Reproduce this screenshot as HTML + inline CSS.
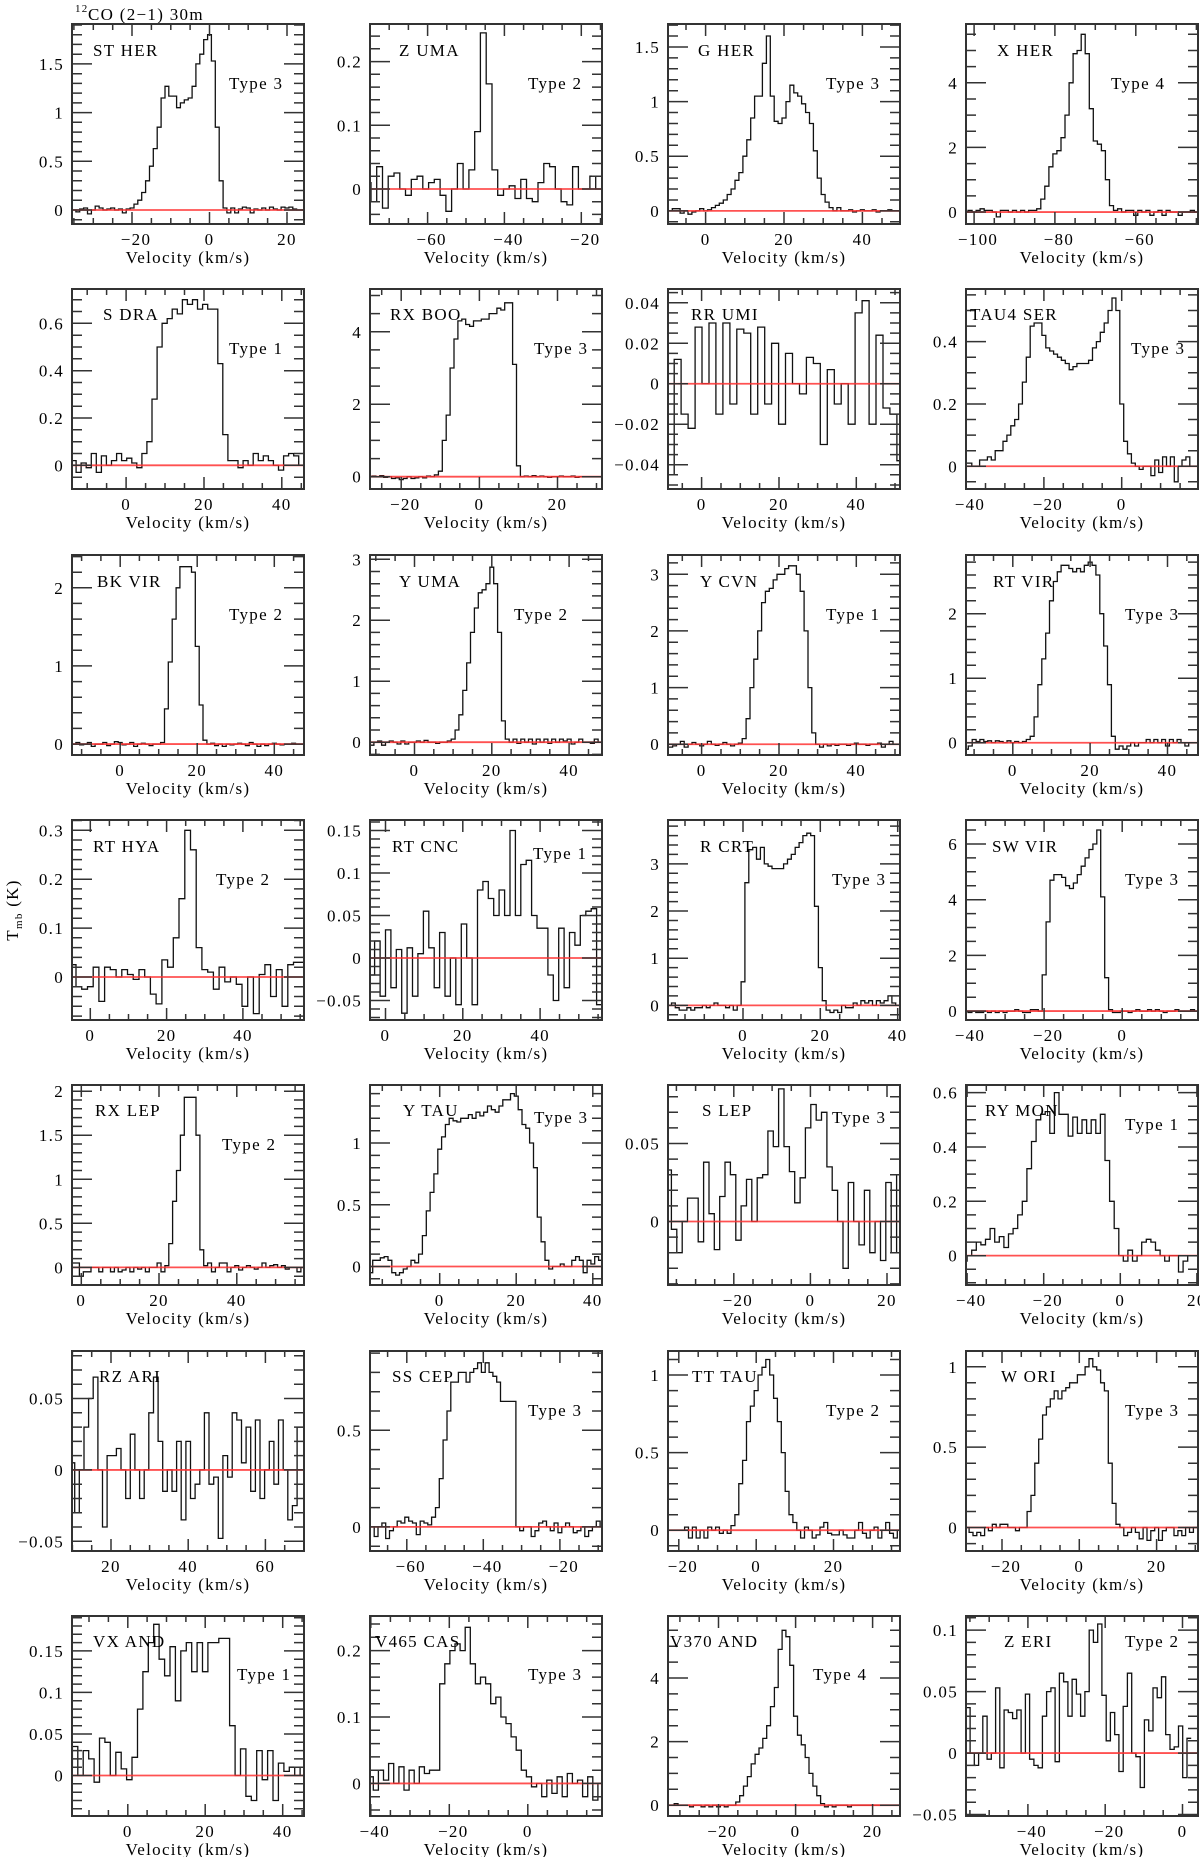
<!DOCTYPE html>
<html><head><meta charset="utf-8">
<style>
html,body{margin:0;padding:0;background:#fff;}
svg{display:block;font-family:"Liberation Serif",serif;}
svg text{letter-spacing:1.3px;}
</style></head>
<body>
<svg id="fig" width="1200" height="1857" viewBox="0 0 1200 1857" xmlns="http://www.w3.org/2000/svg">
<text x="75" y="12" font-size="11">12</text>
<text x="88" y="20" font-size="17">CO (2−1) 30m</text>
<text transform="translate(18,910) rotate(-90)" text-anchor="middle" font-size="17">T<tspan font-size="11" dy="4">mb</tspan><tspan dy="-4"> (K)</tspan></text>
</svg>
<script>
// ---- data: star names, types, and spectra (Tmb in K per channel) ----
const starNames = ["ST HER","Z UMA","G HER","X HER","S DRA","RX BOO","RR UMI","TAU4 SER","BK VIR","Y UMA","Y CVN","RT VIR","RT HYA","RT CNC","R CRT","SW VIR","RX LEP","Y TAU","S LEP","RY MON","RZ ARI","SS CEP","TT TAU","W ORI","VX AND","V465 CAS","V370 AND","Z ERI"];
const starTypes = ["Type 3","Type 2","Type 3","Type 4","Type 1","Type 3","","Type 3","Type 2","Type 2","Type 1","Type 3","Type 2","Type 1","Type 3","Type 3","Type 2","Type 3","Type 3","Type 1","","Type 3","Type 2","Type 3","Type 1","Type 3","Type 4","Type 2"];
// first channel velocity and channel width (km/s)
const startVel = [-35,-75.5,-9,-102,-13.5,-28,-8,-40,-12,-11,-8,-12,-4.5,-3.5,-19,-40,-2,-18,-37,-40.6,10,-69,-22,-29,-15,-40,-33,-55.5];
const chanWidth = [1,1.5,1,1,1.3,1,1.8,1,1,1,1,1,1.5,1.4,1,1,1,1,1.4,1.2,1.2,1,1,1,1.4,1.3,1,1.1];
const stHer=[0.0,-0.02,0.01,0.02,-0.04,0.0,0.04,0.02,0.0,0.01,0.02,0.0,0.01,-0.03,0.01,0.02,0.06,0.1,0.18,0.3,0.45,0.63,0.85,1.15,1.27,1.17,1.17,1.05,1.1,1.13,1.15,1.27,1.5,1.6,1.75,1.8,1.53,0.85,0.3,0.02,-0.03,0.02,-0.03,0.01,0.03,0.02,-0.03,0.01,0.0,0.02,0.0,0.03,0.01,0.0,0.03,0.02,0.03,0.01,0.0,0.0];
const zUma=[0.01,-0.02,0.035,-0.03,0.02,0.025,0.0,-0.01,0.015,0.02,0.0,0.01,0.015,-0.01,-0.035,0.0,0.04,0.0,0.03,0.09,0.245,0.165,0.03,-0.01,0.0,0.005,-0.015,0.015,-0.015,-0.02,0.01,0.04,0.035,0.0,-0.02,-0.025,0.035,0.0,0.0,0.02,0.0];
const gHer=[0.0,0.02,0.02,-0.02,0.0,-0.03,-0.01,0.0,0.02,0.0,0.01,0.03,0.05,0.07,0.1,0.15,0.2,0.28,0.35,0.5,0.65,0.85,1.05,1.05,1.35,1.6,1.05,0.82,0.8,0.85,1.0,1.15,1.08,1.05,0.98,0.9,0.8,0.55,0.3,0.15,0.08,0.03,0.0,0.03,0.0,0.0,0.01,-0.01,0.0,0.01,0.0,0.0,0.01,-0.01,0.0,0.0,0.01,0.0,0.0];
const xHer=[0.0,0.05,0.0,0.05,0.1,0.05,0.05,0.0,-0.15,0.05,0.05,0.0,0.05,0.0,0.05,0.0,0.05,0.05,0.1,0.4,0.8,1.4,1.8,1.9,2.3,3.0,4.0,4.9,5.0,5.5,4.9,3.2,2.2,2.1,1.9,1.0,0.2,0.05,0.1,0.0,0.05,0.05,-0.1,0.05,0.0,0.05,-0.1,0.0,0.05,-0.1,0.05,0.0,0.0,-0.1,0.0,0.0,0.05,0.0];
const sDra=[0.02,-0.03,0.01,-0.01,0.05,-0.03,0.04,0.0,0.02,0.05,0.02,0.03,0.01,-0.01,0.05,0.1,0.28,0.5,0.6,0.62,0.66,0.64,0.7,0.68,0.7,0.66,0.68,0.66,0.66,0.43,0.13,0.02,0.02,-0.01,0.02,0.0,0.05,0.02,0.04,0.02,0.0,-0.02,0.04,0.05,0.04,0.0,0.01];
const rxBoo=[0.0,0.02,0.0,0.03,-0.02,0.0,-0.05,-0.03,-0.08,-0.05,0.0,-0.05,-0.03,0.0,-0.03,0.02,0.0,0.05,0.15,1.0,1.7,3.0,3.8,4.3,4.35,4.2,4.15,4.3,4.3,4.35,4.35,4.5,4.5,4.65,4.6,4.8,4.8,3.1,0.3,0.0,0.02,0.0,0.03,0.0,0.02,0.0,-0.02,0.0,0.0,0.02,0.0,0.0,0.02,-0.02,0.0,0.0,0.0,0.0,0.0,0.0];
const rrUmi=[-0.045,0.012,-0.015,-0.022,0.028,0.0,0.03,-0.015,0.03,-0.01,0.027,0.025,-0.015,0.028,-0.01,0.02,-0.02,0.015,0.0,-0.005,0.013,0.01,-0.03,0.007,-0.01,0.0,-0.02,0.035,0.041,-0.02,0.024,-0.012,-0.015,-0.038,-0.005,-0.015];
const tau4Ser=[0.01,0.01,0.0,0.0,0.02,0.02,0.03,0.02,0.05,0.05,0.08,0.1,0.13,0.15,0.2,0.27,0.35,0.45,0.46,0.46,0.42,0.38,0.37,0.36,0.35,0.34,0.33,0.31,0.32,0.33,0.33,0.33,0.34,0.38,0.4,0.43,0.46,0.5,0.54,0.5,0.2,0.08,0.04,0.01,0.0,-0.01,0.0,0.0,-0.03,0.02,-0.02,0.03,0.0,0.03,-0.05,0.0,0.02,0.03,0.0,0.0];
const bkVir=[0.0,0.02,-0.01,0.0,0.02,-0.03,0.0,0.0,0.02,-0.02,0.0,0.03,0.02,-0.01,0.0,0.02,-0.03,0.0,0.01,0.0,-0.02,0.0,0.0,0.02,0.45,1.05,1.6,2.0,2.27,2.27,2.27,2.2,1.25,0.5,0.05,0.0,0.01,-0.02,0.0,-0.03,0.0,-0.01,0.0,0.01,0.0,-0.02,0.02,0.0,-0.03,0.0,-0.02,0.0,0.01,0.0,-0.01,0.0,0.0,0.01,0.0,0.0];
const yUma=[-0.05,0.0,0.02,-0.05,0.0,0.02,0.0,-0.03,0.02,-0.03,0.0,0.0,0.02,0.0,0.03,0.0,0.0,-0.02,0.0,0.0,0.02,0.05,0.2,0.45,0.85,1.3,1.8,2.2,2.45,2.5,2.6,2.87,2.6,1.8,0.35,0.05,0.0,0.05,-0.02,0.05,0.0,0.05,-0.03,0.05,0.0,0.05,-0.02,0.05,0.0,0.05,0.02,0.05,-0.03,0.0,0.05,0.0,0.0,-0.02,0.05,0.0];
const yCvn=[-0.05,-0.03,0.0,0.05,-0.05,0.0,0.03,0.0,-0.03,0.0,0.05,0.0,-0.02,0.0,0.03,0.0,-0.03,0.0,0.02,0.1,0.45,1.0,1.5,2.0,2.5,2.7,2.75,2.9,3.0,3.0,3.1,3.15,3.15,3.0,2.7,2.0,1.0,0.2,0.0,-0.05,0.0,-0.03,0.0,-0.02,0.0,0.0,-0.02,0.0,0.02,0.0,0.0,-0.02,0.0,0.0,0.02,-0.05,0.0,0.05,0.0,0.0];
const rtVir=[-0.1,-0.05,0.05,0.02,0.05,0.02,0.03,0.0,0.03,0.02,0.0,0.03,0.0,0.02,0.0,0.02,0.05,0.1,0.4,0.9,1.3,1.7,2.2,2.5,2.65,2.75,2.75,2.7,2.65,2.7,2.65,2.75,2.8,2.75,2.6,2.0,1.5,0.9,0.1,-0.1,-0.05,-0.1,-0.05,0.0,-0.05,0.0,0.0,0.05,0.0,0.05,0.0,0.05,-0.05,0.05,0.0,0.05,0.0,-0.05,0.0,0.0];
const rtHya=[0.025,-0.02,-0.025,-0.02,0.02,-0.05,0.02,0.015,0.0,0.015,0.005,-0.005,0.015,0.0,-0.035,-0.055,0.035,0.02,0.08,0.16,0.3,0.26,0.06,0.015,0.01,-0.025,0.02,-0.01,0.0,-0.015,-0.06,0.0,-0.075,0.005,0.025,-0.04,0.015,-0.06,0.025,0.03,0.03];
const rtCnc=[-0.02,0.02,-0.045,0.033,-0.035,0.01,-0.065,0.012,-0.045,0.005,0.055,0.012,-0.035,0.03,-0.045,0.0,-0.055,0.04,0.0,-0.055,0.08,0.09,0.07,0.05,0.08,0.05,0.15,0.05,0.11,0.115,0.05,0.035,0.035,-0.02,-0.05,0.035,-0.035,0.03,0.015,0.05,0.055,0.058,-0.055];
const rCrt=[0.0,0.05,-0.05,-0.1,-0.1,-0.05,-0.1,-0.05,-0.05,0.0,-0.05,0.0,0.05,0.0,0.0,-0.05,0.0,-0.1,0.0,0.5,2.6,3.3,3.35,3.1,3.35,3.0,2.95,2.9,2.9,2.9,3.0,3.1,3.2,3.35,3.45,3.6,3.65,3.6,2.1,0.8,0.1,-0.1,-0.15,-0.1,-0.15,0.0,-0.05,-0.05,0.05,0.0,0.1,0.05,0.1,0.0,0.1,0.05,0.1,0.2,0.05,0.0];
const swVir=[0.0,-0.05,0.0,-0.05,-0.05,0.0,-0.05,0.0,-0.05,0.0,-0.05,0.0,0.0,0.05,0.0,-0.05,-0.05,0.05,0.05,0.0,1.3,3.2,4.7,4.9,4.9,4.8,4.5,4.4,4.6,4.9,5.2,5.5,5.8,6.0,6.5,4.1,1.2,0.05,-0.05,-0.05,0.0,0.0,-0.05,0.0,0.05,0.0,0.0,0.05,0.0,0.05,0.0,-0.05,0.0,0.0,0.05,0.0,0.0,0.0,0.05,0.0];
const rxLep=[0.05,0.05,-0.1,-0.05,-0.05,0.0,0.0,-0.05,0.0,0.0,-0.05,0.0,-0.05,-0.03,0.0,-0.05,0.0,-0.02,0.0,-0.05,0.0,0.0,0.05,-0.05,0.02,0.27,0.75,1.1,1.5,1.93,1.93,1.93,1.5,0.2,0.02,0.05,-0.05,0.0,0.05,0.05,-0.05,0.0,0.02,-0.03,0.0,0.02,0.0,-0.02,0.0,0.05,0.0,0.02,0.03,0.0,0.02,-0.02,0.0,0.0,-0.05,0.0];
const yTau=[-0.05,0.05,0.05,0.07,0.08,0.05,-0.05,-0.07,-0.05,-0.02,0.0,0.05,0.03,0.1,0.25,0.45,0.6,0.75,0.95,1.05,1.15,1.2,1.18,1.17,1.2,1.2,1.23,1.2,1.25,1.22,1.25,1.3,1.27,1.25,1.3,1.35,1.35,1.4,1.38,1.27,1.15,1.12,1.0,0.8,0.4,0.2,0.05,-0.02,0.0,0.0,0.02,0.0,0.0,0.05,0.08,0.05,-0.05,0.05,0.02,0.08,0.05];
const sLep=[0.033,-0.005,-0.02,0.0,0.015,0.015,-0.013,0.038,0.005,-0.018,0.016,0.038,0.03,-0.012,0.01,0.027,0.0,0.028,0.03,0.058,0.048,0.085,0.048,0.032,0.012,0.028,0.06,0.075,0.065,0.07,0.035,0.02,0.0,-0.03,0.025,0.0,-0.015,0.02,-0.02,0.0,-0.025,0.025,-0.02,0.03];
const ryMon=[-0.02,0.0,0.02,0.05,0.04,0.06,0.1,0.05,0.07,0.03,0.08,0.1,0.15,0.2,0.32,0.42,0.5,0.52,0.53,0.45,0.6,0.52,0.52,0.44,0.51,0.45,0.5,0.45,0.5,0.45,0.52,0.35,0.2,0.1,0.0,-0.02,0.02,-0.02,0.0,0.05,0.06,0.05,0.02,0.0,-0.02,0.0,0.0,-0.06,-0.02,0.0];
const rzAri=[0.005,-0.03,0.0,0.03,0.05,0.065,0.0,-0.04,0.01,0.01,0.015,0.0,-0.02,0.025,0.0,-0.02,0.0,0.04,0.065,0.02,-0.015,0.0,-0.015,0.02,-0.035,0.02,-0.02,-0.01,0.0,0.04,-0.01,-0.005,-0.048,0.01,-0.005,0.04,0.035,0.005,0.03,-0.015,0.035,-0.02,0.0,0.02,-0.01,0.035,0.0,-0.035,-0.025,0.03,0.03];
const ssCep=[0.0,-0.05,0.0,0.02,-0.06,-0.02,0.0,0.03,0.02,0.05,0.03,0.02,-0.04,0.03,0.02,0.01,0.05,0.1,0.25,0.45,0.6,0.75,0.75,0.8,0.8,0.75,0.8,0.82,0.85,0.8,0.85,0.8,0.78,0.75,0.65,0.65,0.65,0.65,0.0,-0.02,0.0,0.0,-0.05,-0.02,0.02,0.03,0.0,-0.02,0.02,-0.03,0.0,0.02,0.0,-0.03,-0.02,0.0,-0.05,-0.02,0.0,0.03,0.0];
const ttTau=[0.0,0.0,0.0,0.0,0.02,-0.05,0.02,-0.05,0.0,-0.05,0.02,0.0,0.02,-0.02,0.0,-0.02,0.03,0.1,0.3,0.45,0.7,0.8,0.9,1.0,1.05,1.1,1.0,0.85,0.7,0.5,0.25,0.1,0.05,0.0,-0.05,0.02,0.0,-0.05,-0.03,0.02,0.05,-0.02,-0.03,-0.03,0.0,-0.03,-0.05,-0.05,0.0,0.05,-0.02,-0.05,0.0,0.02,-0.05,0.0,0.05,-0.02,-0.05,0.0];
const wOri=[0.0,-0.03,-0.05,-0.03,-0.05,0.0,-0.02,0.02,0.0,0.02,0.02,0.0,0.0,-0.02,0.0,0.0,0.1,0.2,0.4,0.55,0.7,0.75,0.8,0.85,0.8,0.85,0.87,0.9,0.9,0.95,0.95,1.0,1.05,1.0,0.98,0.9,0.85,0.4,0.15,0.02,0.0,-0.05,-0.03,0.0,-0.03,-0.07,0.0,-0.08,-0.02,0.0,-0.08,-0.02,0.0,0.0,-0.05,-0.02,-0.05,0.0,-0.03,0.0];
const vxAnd=[0.01,0.035,0.0,0.03,0.02,-0.008,0.045,0.04,0.0,0.028,0.008,-0.005,0.022,0.08,0.125,0.16,0.182,0.14,0.12,0.155,0.09,0.15,0.16,0.125,0.16,0.125,0.16,0.16,0.165,0.165,0.06,0.0,0.032,-0.025,-0.03,0.03,-0.005,0.03,-0.03,0.015,0.005,0.01,0.0,0.01,0.0];
const v465Cas=[0.01,-0.01,0.02,0.005,0.03,0.0,0.025,-0.01,0.02,0.0,0.025,0.015,0.02,0.02,0.15,0.18,0.2,0.21,0.2,0.235,0.18,0.15,0.16,0.15,0.12,0.13,0.1,0.09,0.07,0.05,0.02,0.01,-0.005,0.0,-0.02,0.005,-0.015,0.01,-0.02,0.015,0.0,0.005,-0.02,0.01,-0.025,0.0];
const v370And=[0.0,0.0,0.05,0.0,0.0,0.0,-0.05,0.0,0.0,-0.05,0.0,-0.05,0.0,-0.05,0.0,-0.05,0.0,0.0,0.1,0.3,0.6,0.9,1.3,1.6,1.8,2.1,2.5,3.1,3.7,4.9,5.5,5.3,4.4,2.8,2.2,1.9,1.5,1.0,0.6,0.3,0.05,-0.05,0.0,-0.05,0.0,0.0,0.0,-0.05,0.0,0.0,0.0,0.0,0.0,0.0,0.0,0.0,0.0,0.0,0.0,0.0,0.0];
const zEri=[0.037,0.0,-0.01,0.0,0.03,-0.005,0.0,0.053,-0.012,0.035,0.033,0.028,0.035,0.0,0.048,-0.005,-0.01,-0.012,0.03,0.05,0.053,-0.007,0.065,0.058,0.03,0.06,0.048,0.03,0.05,0.1,0.09,0.105,0.047,0.01,0.033,0.015,-0.015,0.038,0.065,0.0,-0.003,-0.028,0.027,0.018,0.053,0.045,0.062,0.015,0.003,0.005,0.022,-0.02,0.012];
const spectra=[stHer,zUma,gHer,xHer,sDra,rxBoo,rrUmi,tau4Ser,bkVir,yUma,yCvn,rtVir,rtHya,rtCnc,rCrt,swVir,rxLep,yTau,sLep,ryMon,rzAri,ssCep,ttTau,wOri,vxAnd,v465Cas,v370And,zEri];
// axis ranges and tick steps [major, minor]
const velRange=[[-35.5,24.4],[-75,-14.6],[-9.6,49.6],[-102,-44.6],[-13.9,45.7],[-28,31.4],[-8.7,51.3],[-40,19.6],[-12.5,47.7],[-11.5,48.5],[-8.7,51.3],[-12.1,47.9],[-4.8,56],[-4,56],[-19.4,40.6],[-40,19.4],[-2.4,57.3],[-18.2,42.4],[-37.2,23.4],[-40.3,20.3],[9.9,70],[-69.6,-9],[-22.8,37.2],[-29.3,30.7],[-14.4,45.5],[-40.2,18.9],[-33.1,27.1],[-56,4]];
const tRange=[[-0.144,1.91],[-0.055,0.259],[-0.12,1.71],[-0.37,5.82],[-0.1,0.745],[-0.34,5.18],[-0.052,0.0468],[-0.073,0.569],[-0.14,2.42],[-0.21,3.07],[-0.19,3.34],[-0.19,2.91],[-0.088,0.321],[-0.073,0.1624],[-0.31,3.93],[-0.32,6.86],[-0.2,2.07],[-0.15,1.47],[-0.0407,0.0875],[-0.108,0.628],[-0.0568,0.0833],[-0.125,0.911],[-0.134,1.155],[-0.146,1.098],[-0.0487,0.192],[-0.049,0.252],[-0.34,5.95],[-0.0512,0.1115]];
const tTicks=[[0.5,0.1],[0.1,0.02],[0.5,0.1],[2,0.5],[0.2,0.05],[2,0.5],[0.02,0.005],[0.2,0.05],[1,0.2],[1,0.2],[1,0.2],[1,0.2],[0.1,0.02],[0.05,0.01],[1,0.2],[2,0.5],[0.5,0.1],[0.5,0.1],[0.05,0.01],[0.2,0.05],[0.05,0.01],[0.5,0.1],[0.5,0.1],[0.5,0.1],[0.05,0.01],[0.1,0.02],[2,0.5],[0.05,0.01]];
const namePos=[[21,26],[29,26],[30,26],[31,26],[31,25],[20,25],[23,25],[4,25],[25,26],[29,26],[32,26],[27,26],[21,26],[22,26],[32,26],[26,26],[23,25],[33,25],[34,25],[19,25],[27,25],[22,25],[24,25],[35,25],[21,25],[5,25],[2,25],[38,25]];
const typePos=[[157,59],[158,59],[158,59],[145,59],[157,59],[164,59],[0,0],[165,59],[157,59],[144,59],[158,59],[159,59],[144,59],[163,33],[164,59],[159,59],[150,59],[164,32],[164,32],[159,39],[0,0],[158,59],[158,59],[159,59],[165,58],[158,58],[145,58],[159,25]];

const NS="http://www.w3.org/2000/svg";
const svg=document.getElementById("fig");
const colX=[72,370,668,966], PW=232, PH=200, FS=17;
function mk(tag,attrs,parent){const e=document.createElementNS(NS,tag);for(const k in attrs)e.setAttribute(k,attrs[k]);parent.appendChild(e);return e;}
function fmt(v){let s=String(+v.toFixed(4));return s.replace("-","−");}

for(let p=0;p<28;p++){
  const x0=colX[p%4], y0=Math.round(24+Math.floor(p/4)*265.33);
  const [vmin,vmax]=velRange[p],[tmin,tmax]=tRange[p];
  const sx=v=>x0+(v-vmin)/(vmax-vmin)*PW;
  const sy=t=>y0+PH-(t-tmin)/(tmax-tmin)*PH;
  const g=mk("g",{},svg);
  
  
  const cp=mk("clipPath",{id:"c"+p},g);
  mk("rect",{x:x0,y:y0,width:PW,height:PH},cp);
  const vals=spectra[p],v0=startVel[p],dv=chanWidth[p];
  let d="";
  vals.forEach((t,i)=>{const v=v0+i*dv;const xl=sx(v-dv/2),xr=sx(v+dv/2),y=sy(t);
    d+=(i===0?"M"+xl.toFixed(1)+","+y.toFixed(1):"V"+y.toFixed(1))+"H"+xr.toFixed(1);});
  const sp=mk("path",{d:d,fill:"none",stroke:"#111","stroke-width":1.3,"clip-path":"url(#c"+p+")"},g);
  
  
  const bl=mk("line",{x1:x0,x2:x0+PW,y1:sy(0),y2:sy(0),stroke:"#f33","stroke-width":1.8,"stroke-opacity":0.85},g);
  
  
  const box=mk("rect",{x:x0,y:y0,width:PW,height:PH,fill:"none",stroke:"#333","stroke-width":2},g);
  
  
  let tk="";
  for(let v=Math.ceil(vmin/5)*5;v<=vmax+1e-9;v+=5){
    const X=sx(v).toFixed(1),maj=(Math.abs(v%20)<1e-6),L=maj?12:6;
    tk+="M"+X+","+(y0+PH)+"v-"+L+"M"+X+","+y0+"v"+L;
    if(maj){const tl=mk("text",{x:sx(v)+(v<0?4:0),y:y0+PH+21,"text-anchor":"middle","font-size":FS},g);
      tl.textContent=fmt(v);
      
      }
  }
  const [maj,mn]=tTicks[p];
  for(let k=Math.ceil(tmin/mn-1e-6);k*mn<=tmax+1e-9;k++){
    const t=k*mn,Y=sy(t).toFixed(1),r=t/maj,isM=Math.abs(r-Math.round(r))<1e-6,L=isM?20:10;
    tk+="M"+x0+","+Y+"h"+L+"M"+(x0+PW)+","+Y+"h-"+L;
    if(isM){const tl=mk("text",{x:x0-8,y:sy(t)+6,"text-anchor":"end","font-size":FS},g);
      tl.textContent=fmt(Math.round(r)*maj);
      
      }
  }
  const tp=mk("path",{d:tk,stroke:"#333","stroke-width":1.5,fill:"none"},g);
  
  
  const xl=mk("text",{x:x0+PW/2,y:y0+PH+39,"text-anchor":"middle","font-size":FS},g);
  xl.textContent="Velocity (km/s)";
  
  
  const nm=mk("text",{x:x0+namePos[p][0],y:y0+namePos[p][1]+6,"font-size":FS},g);
  nm.textContent=starNames[p];
  
  
  if(starTypes[p]){const ty=mk("text",{x:x0+typePos[p][0],y:y0+typePos[p][1]+6,"font-size":FS},g);
    ty.textContent=starTypes[p];
    
    }
}
</script>
</body></html>
